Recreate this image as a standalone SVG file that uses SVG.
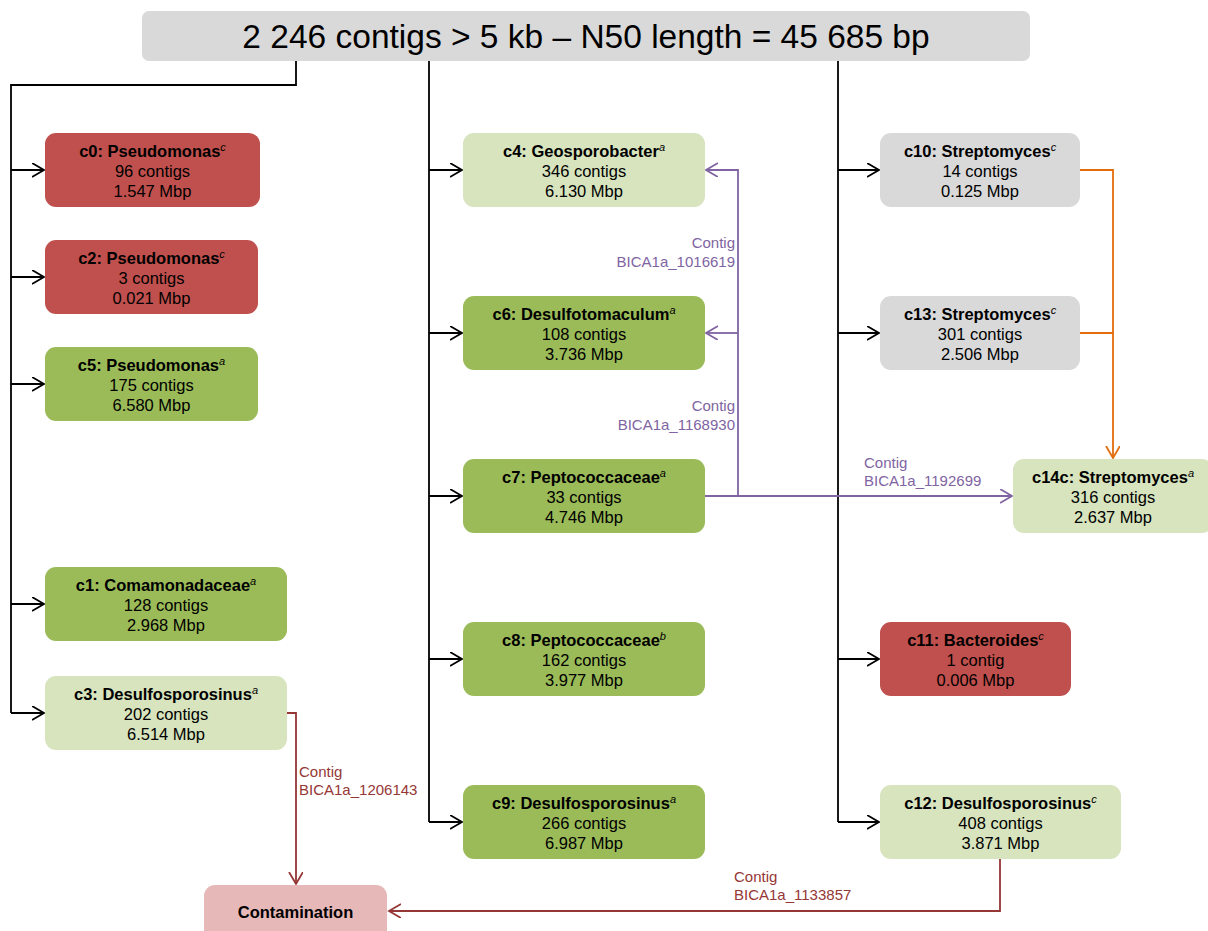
<svg xmlns="http://www.w3.org/2000/svg" width="1208" height="931" viewBox="0 0 1208 931">
<style>
.t{font-family:"Liberation Sans",Arial,sans-serif;font-size:16.5px;fill:#000;text-anchor:middle}
.b{font-weight:bold}
.sup{font-size:11px;font-style:italic;font-weight:normal}
.lbl{font-family:"Liberation Sans",Arial,sans-serif;font-size:15px}
.red{fill:#c0504d}.grn{fill:#9bbb59}.lgr{fill:#d7e4bd}.gry{fill:#d9d9d9}.pink{fill:#e6b9b8}
.k{stroke:#000;stroke-width:1.8;fill:none}
.pu{stroke:#8064a2;stroke-width:1.8;fill:none}
.or{stroke:#e46c0a;stroke-width:1.8;fill:none}
.dr{stroke:#953735;stroke-width:1.8;fill:none}
</style>
<defs>
<marker id="ak" markerUnits="userSpaceOnUse" markerWidth="14" markerHeight="16" refX="12" refY="7" orient="auto"><path d="M0,0 L12,7 L0,14" fill="none" stroke="#000" stroke-width="1.8"/></marker>
<marker id="ap" markerUnits="userSpaceOnUse" markerWidth="14" markerHeight="16" refX="12" refY="7" orient="auto"><path d="M0,0 L12,7 L0,14" fill="none" stroke="#8064a2" stroke-width="1.8"/></marker>
<marker id="ao" markerUnits="userSpaceOnUse" markerWidth="14" markerHeight="16" refX="12" refY="7" orient="auto"><path d="M0,0 L12,7 L0,14" fill="none" stroke="#e46c0a" stroke-width="1.8"/></marker>
<marker id="ar" markerUnits="userSpaceOnUse" markerWidth="14" markerHeight="16" refX="12" refY="7" orient="auto"><path d="M0,0 L12,7 L0,14" fill="none" stroke="#953735" stroke-width="1.8"/></marker>
</defs>
<rect width="1208" height="931" fill="#fff"/>
<g id="connectors">
<path class="k" d="M296,61 V85 H11 V713"/>
<path class="k" d="M11,170 H44" marker-end="url(#ak)"/>
<path class="k" d="M11,277 H44" marker-end="url(#ak)"/>
<path class="k" d="M11,384 H44" marker-end="url(#ak)"/>
<path class="k" d="M11,604 H44" marker-end="url(#ak)"/>
<path class="k" d="M11,713 H44" marker-end="url(#ak)"/>
<path class="k" d="M429,61 V822"/>
<path class="k" d="M429,170 H462" marker-end="url(#ak)"/>
<path class="k" d="M429,333 H462" marker-end="url(#ak)"/>
<path class="k" d="M429,496 H462" marker-end="url(#ak)"/>
<path class="k" d="M429,659 H462" marker-end="url(#ak)"/>
<path class="k" d="M429,822 H462" marker-end="url(#ak)"/>
<path class="k" d="M838,61 V822"/>
<path class="k" d="M838,170 H879" marker-end="url(#ak)"/>
<path class="k" d="M838,333 H879" marker-end="url(#ak)"/>
<path class="k" d="M838,659 H879" marker-end="url(#ak)"/>
<path class="k" d="M838,822 H879" marker-end="url(#ak)"/>
<path class="pu" d="M705,496 H1012" marker-end="url(#ap)"/>
<path class="pu" d="M738,496 V170 H706" marker-end="url(#ap)"/>
<path class="pu" d="M738,333 H706" marker-end="url(#ap)"/>
<path class="or" d="M1080,170 H1113 V458" marker-end="url(#ao)"/>
<path class="or" d="M1080,333 H1113"/>
<path class="dr" d="M287,713 H296 V884" marker-end="url(#ar)"/>
<path class="dr" d="M1000,859 V911 H389" marker-end="url(#ar)"/>
<text class="lbl" fill="#8064a2" text-anchor="end" x="735" y="248">Contig</text>
<text class="lbl" fill="#8064a2" text-anchor="end" x="735" y="267">BICA1a_1016619</text>
<text class="lbl" fill="#8064a2" text-anchor="end" x="735" y="411">Contig</text>
<text class="lbl" fill="#8064a2" text-anchor="end" x="735" y="430">BICA1a_1168930</text>
<text class="lbl" fill="#8064a2" x="864" y="468">Contig</text>
<text class="lbl" fill="#8064a2" x="864" y="486">BICA1a_1192699</text>
<text class="lbl" fill="#953735" x="299" y="777">Contig</text>
<text class="lbl" fill="#953735" x="299" y="795">BICA1a_1206143</text>
<text class="lbl" fill="#953735" x="734" y="882">Contig</text>
<text class="lbl" fill="#953735" x="734" y="900">BICA1a_1133857</text>
</g>
<g id="title">
<rect x="142" y="11" width="888" height="50" rx="7" class="gry"/>
<text x="586" y="48" font-family="Liberation Sans, Arial, sans-serif" font-size="33.5" text-anchor="middle">2 246 contigs &gt; 5 kb – N50 length = 45 685 bp</text>
</g>
<g id="c0"><rect x="45" y="133" width="215" height="74" rx="11" class="red"/>
<text class="t" x="152.5" y="157"><tspan class="b">c0: Pseudomonas</tspan><tspan class="sup" dy="-6">c</tspan></text>
<text class="t" x="152.5" y="177">96 contigs</text><text class="t" x="152.5" y="197">1.547 Mbp</text></g>
<g id="c2"><rect x="45" y="240" width="213" height="74" rx="11" class="red"/>
<text class="t" x="151.5" y="264"><tspan class="b">c2: Pseudomonas</tspan><tspan class="sup" dy="-6">c</tspan></text>
<text class="t" x="151.5" y="284">3 contigs</text><text class="t" x="151.5" y="304">0.021 Mbp</text></g>
<g id="c5"><rect x="45" y="347" width="213" height="74" rx="11" class="grn"/>
<text class="t" x="151.5" y="371"><tspan class="b">c5: Pseudomonas</tspan><tspan class="sup" dy="-6">a</tspan></text>
<text class="t" x="151.5" y="391">175 contigs</text><text class="t" x="151.5" y="411">6.580 Mbp</text></g>
<g id="c1"><rect x="45" y="567" width="242" height="74" rx="11" class="grn"/>
<text class="t" x="166" y="591"><tspan class="b">c1: Comamonadaceae</tspan><tspan class="sup" dy="-6">a</tspan></text>
<text class="t" x="166" y="611">128 contigs</text><text class="t" x="166" y="631">2.968 Mbp</text></g>
<g id="c3"><rect x="45" y="676" width="242" height="74" rx="11" class="lgr"/>
<text class="t" x="166" y="700"><tspan class="b">c3: Desulfosporosinus</tspan><tspan class="sup" dy="-6">a</tspan></text>
<text class="t" x="166" y="720">202 contigs</text><text class="t" x="166" y="740">6.514 Mbp</text></g>
<g id="c4"><rect x="463" y="133" width="242" height="74" rx="11" class="lgr"/>
<text class="t" x="584" y="157"><tspan class="b">c4: Geosporobacter</tspan><tspan class="sup" dy="-6">a</tspan></text>
<text class="t" x="584" y="177">346 contigs</text><text class="t" x="584" y="197">6.130 Mbp</text></g>
<g id="c6"><rect x="463" y="296" width="242" height="74" rx="11" class="grn"/>
<text class="t" x="584" y="320"><tspan class="b">c6: Desulfotomaculum</tspan><tspan class="sup" dy="-6">a</tspan></text>
<text class="t" x="584" y="340">108 contigs</text><text class="t" x="584" y="360">3.736 Mbp</text></g>
<g id="c7"><rect x="463" y="459" width="242" height="74" rx="11" class="grn"/>
<text class="t" x="584" y="483"><tspan class="b">c7: Peptococcaceae</tspan><tspan class="sup" dy="-6">a</tspan></text>
<text class="t" x="584" y="503">33 contigs</text><text class="t" x="584" y="523">4.746 Mbp</text></g>
<g id="c8"><rect x="463" y="622" width="242" height="74" rx="11" class="grn"/>
<text class="t" x="584" y="646"><tspan class="b">c8: Peptococcaceae</tspan><tspan class="sup" dy="-6">b</tspan></text>
<text class="t" x="584" y="666">162 contigs</text><text class="t" x="584" y="686">3.977 Mbp</text></g>
<g id="c9"><rect x="463" y="785" width="242" height="74" rx="11" class="grn"/>
<text class="t" x="584" y="809"><tspan class="b">c9: Desulfosporosinus</tspan><tspan class="sup" dy="-6">a</tspan></text>
<text class="t" x="584" y="829">266 contigs</text><text class="t" x="584" y="849">6.987 Mbp</text></g>
<g id="c10"><rect x="880" y="133" width="200" height="74" rx="11" class="gry"/>
<text class="t" x="980" y="157"><tspan class="b">c10: Streptomyces</tspan><tspan class="sup" dy="-6">c</tspan></text>
<text class="t" x="980" y="177">14 contigs</text><text class="t" x="980" y="197">0.125 Mbp</text></g>
<g id="c13"><rect x="880" y="296" width="200" height="74" rx="11" class="gry"/>
<text class="t" x="980" y="320"><tspan class="b">c13: Streptomyces</tspan><tspan class="sup" dy="-6">c</tspan></text>
<text class="t" x="980" y="340">301 contigs</text><text class="t" x="980" y="360">2.506 Mbp</text></g>
<g id="c14c"><rect x="1013" y="459" width="200" height="74" rx="11" class="lgr"/>
<text class="t" x="1113" y="483"><tspan class="b">c14c: Streptomyces</tspan><tspan class="sup" dy="-6">a</tspan></text>
<text class="t" x="1113" y="503">316 contigs</text><text class="t" x="1113" y="523">2.637 Mbp</text></g>
<g id="c11"><rect x="880" y="622" width="191" height="74" rx="11" class="red"/>
<text class="t" x="975.5" y="646"><tspan class="b">c11: Bacteroides</tspan><tspan class="sup" dy="-6">c</tspan></text>
<text class="t" x="975.5" y="666">1 contig</text><text class="t" x="975.5" y="686">0.006 Mbp</text></g>
<g id="c12"><rect x="880" y="785" width="241" height="74" rx="11" class="lgr"/>
<text class="t" x="1000.5" y="809"><tspan class="b">c12: Desulfosporosinus</tspan><tspan class="sup" dy="-6">c</tspan></text>
<text class="t" x="1000.5" y="829">408 contigs</text><text class="t" x="1000.5" y="849">3.871 Mbp</text></g>
<g id="contamination"><rect x="204" y="885" width="183" height="70" rx="11" class="pink"/>
<text class="t b" x="295.5" y="918">Contamination</text></g>
</svg>
